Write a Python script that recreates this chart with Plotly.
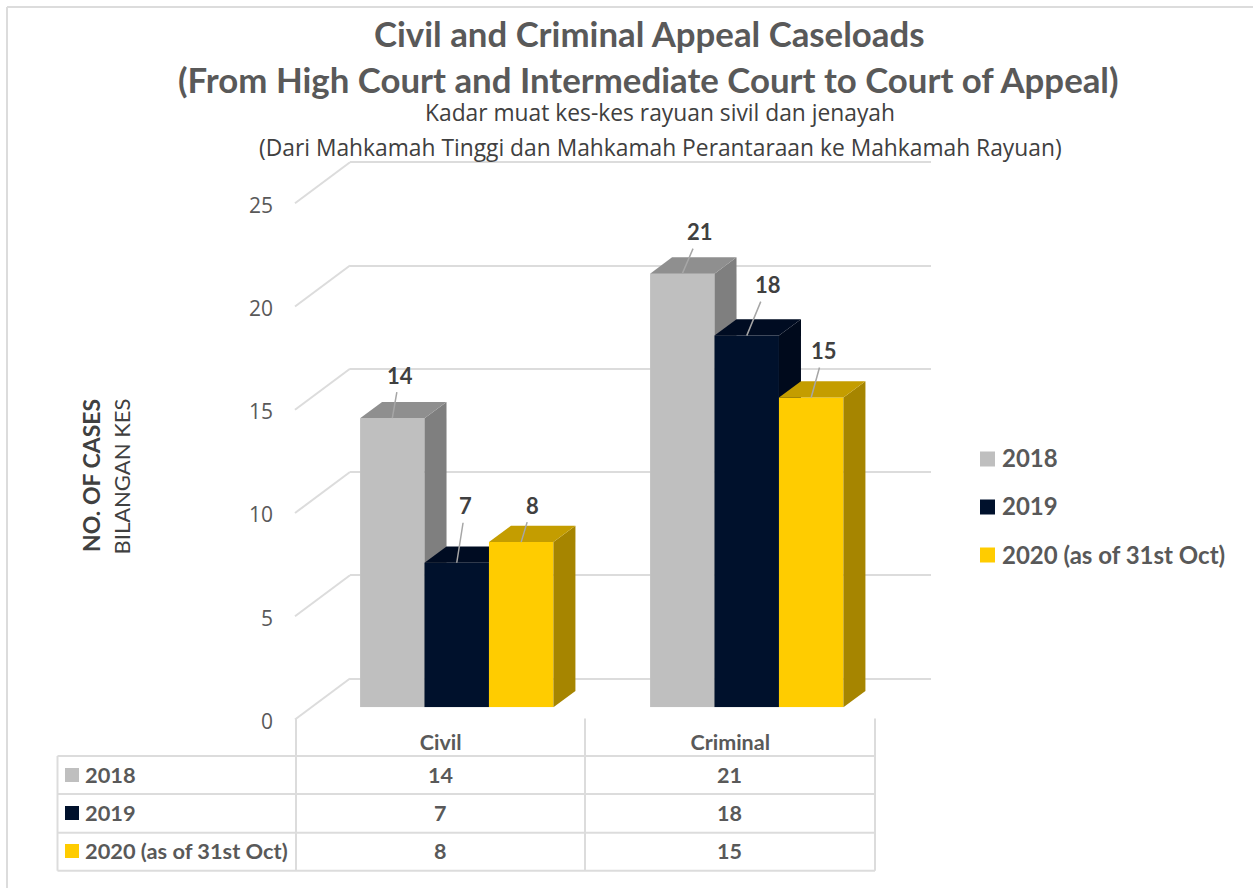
import plotly.graph_objects as go

# ---- data ----
categories = ["Civil", "Criminal"]
series_names = ["2018", "2019", "2020 (as of 31st Oct)"]
values_2018 = [14, 21]
values_2019 = [7, 18]
values_2020 = [8, 15]
y_ticks = [0, 5, 10, 15, 20, 25]
title_lines = ["Civil and Criminal Appeal Caseloads",
               "(From High Court and Intermediate Court to Court of Appeal)"]
subtitle_lines = ["Kadar muat kes-kes rayuan sivil dan jenayah",
                  "(Dari Mahkamah Tinggi dan Mahkamah Perantaraan ke Mahkamah Rayuan)"]

# ---- style ----
W, H = 1253, 888
all_values = [values_2018, values_2019, values_2020]
front_colors = ["#BFBFBF", "#00112C", "#FFCC00"]
side_colors = ["#7F7F7F", "#000A1C", "#A68500"]
top_colors = ["#8F8F8F", "#000C22", "#C49D00"]
GRID = "#DCDCDC"
GRID_W = 2
TXT = "#595959"
LBL = "#404040"
BOLD = "Lato"
REG = "Open Sans"

def px(x):
    return x / W

def py(y):
    return 1 - y / H

# plane geometry in pixels
UNIT = 20.65             # pixels per case
BAR_BASE = 707.3
FRONT_BASE = 719.5
LABEL_BASE = 721.5
BACK_BASE = 678.5
YMAX = 25
BAR_L, BAR_R = 311.75, 891.75     # x extent of the bar axis
BACK_L, BACK_R = 350, 931
FRONT_L, FRONT_R = 296, 875
group_frac = 2 / 3
bar_w = group_frac / 3
depth_x = 22 / ((BAR_R - BAR_L) / 2)   # bar depth in category units
depth_y = 16.3 / UNIT                  # bar depth in value units

# [ax, ay] pixel offset of each value label from its bar's front top centre
label_offsets = [[(7.5, -43), (18, -42)], [(9, -57), (21, -51)], [(11, -37), (13, -47)]]

fig = go.Figure()

# one overlaid subplot per series so that each bar paints over the earlier one
xnames = ["x2", "x3", "x4"]
ynames = ["y2", "y3", "y4"]
annotations = []
for i, (name, vals) in enumerate(zip(series_names, all_values)):
    centers = [c - group_frac / 2 + bar_w * (i + 0.5) for c in range(len(categories))]
    fig.add_trace(go.Bar(x=centers, y=vals, width=bar_w, name=name, customdata=categories,
                         marker=dict(color=front_colors[i], line=dict(width=0)),
                         xaxis=xnames[i], yaxis=ynames[i], showlegend=False))
    for c, v in enumerate(vals):
        l = centers[c] - bar_w / 2
        r = centers[c] + bar_w / 2
        fig.add_trace(go.Scatter(x=[r, r + depth_x, r + depth_x, r, r], y=[0, depth_y, v + depth_y, v, 0],
                                 mode="lines", fill="toself", fillcolor=side_colors[i],
                                 line=dict(width=0), hoverinfo="skip", showlegend=False,
                                 xaxis=xnames[i], yaxis=ynames[i]))
        fig.add_trace(go.Scatter(x=[l, r, r + depth_x, l + depth_x, l], y=[v, v, v + depth_y, v + depth_y, v],
                                 mode="lines", fill="toself", fillcolor=top_colors[i],
                                 line=dict(width=0), hoverinfo="skip", showlegend=False,
                                 xaxis=xnames[i], yaxis=ynames[i]))
        ax, ay = label_offsets[i][c]
        annotations.append(dict(x=centers[c], y=v, xref=xnames[i], yref=ynames[i], text=f"<b>{v}</b>",
                                showarrow=True, arrowhead=0, arrowwidth=1.5, arrowcolor="#A6A6A6",
                                ax=ax, ay=ay, axref="pixel", ayref="pixel", borderpad=3,
                                font=dict(family=BOLD, size=22, color=LBL)))

# invisible anchors: back wall and front plane
fig.add_trace(go.Scatter(x=[0], y=[0], mode="markers", marker=dict(opacity=0), xaxis="x", yaxis="y",
                         hoverinfo="skip", showlegend=False))
fig.add_trace(go.Scatter(x=[0], y=[0], mode="markers", marker=dict(opacity=0), xaxis="x5", yaxis="y5",
                         hoverinfo="skip", showlegend=False))

shapes = []
# slanted floor/side lines linking the front plane ticks to the back wall
for t in y_ticks:
    shapes.append(dict(type="line", xref="paper", yref="paper", layer="below",
                       x0=px(FRONT_L - 1), y0=py(FRONT_BASE - t * UNIT),
                       x1=px(BACK_L), y1=py(BACK_BASE - t * UNIT),
                       line=dict(color=GRID, width=GRID_W)))

# data table
rows_y = [756, 794, 832.7, 870.7]
row_mid = [775, 813, 851]
col_x = [57.5, 296, 585, 875]
col_mid = [440.5, 730]
for y in rows_y:
    shapes.append(dict(type="line", xref="paper", yref="paper", x0=px(col_x[0]), x1=px(col_x[-1]),
                       y0=py(y), y1=py(y), line=dict(color=GRID, width=GRID_W)))
shapes.append(dict(type="line", xref="paper", yref="paper", x0=px(col_x[0]), x1=px(col_x[0]),
                   y0=py(rows_y[0]), y1=py(rows_y[-1]), line=dict(color=GRID, width=GRID_W)))
for x in col_x[1:]:
    shapes.append(dict(type="line", xref="paper", yref="paper", x0=px(x), x1=px(x),
                       y0=py(FRONT_BASE - 1), y1=py(rows_y[-1]), line=dict(color=GRID, width=GRID_W)))


def text(x, y, s, size, family=BOLD, color=TXT, xanchor="center", angle=0):
    annotations.append(dict(x=px(x), y=py(y), xref="paper", yref="paper", text=s, showarrow=False,
                            xanchor=xanchor, yanchor="middle", textangle=angle,
                            font=dict(family=family, size=size, color=color)))


for r, name in enumerate(series_names):
    shapes.append(dict(type="rect", xref="paper", yref="paper", x0=px(65), x1=px(79),
                       y0=py(row_mid[r] - 7), y1=py(row_mid[r] + 7),
                       fillcolor=front_colors[r], line=dict(width=0)))
    text(83, row_mid[r] - 1, f"<b>{name}</b>", 21.8, xanchor="left")
    for c in range(len(categories)):
        text(col_mid[c] - 0.5, row_mid[r], f"<b>{all_values[r][c]}</b>", 21.5)

# legend
legend_y = [459, 507, 555]
for r, name in enumerate(series_names):
    shapes.append(dict(type="rect", xref="paper", yref="paper", x0=px(980), x1=px(995),
                       y0=py(legend_y[r] - 7.5), y1=py(legend_y[r] + 7.5),
                       fillcolor=front_colors[r], line=dict(width=0)))
    text(1000, legend_y[r] - 1, f"<b>{name}</b>", 24, xanchor="left")

# titles
text(649.5, 34, f"<b>{title_lines[0]}</b>", 34.8)
text(648.5, 80, f"<b>{title_lines[1]}</b>", 34.8)
text(660, 112, subtitle_lines[0], 22.8, family=REG, color="#404040")
text(660, 148, subtitle_lines[1], 22.8, family=REG, color="#404040")
text(91, 476, "<b>NO. OF CASES</b>", 23, angle=-90, color=LBL)
text(121, 476.5, "BILANGAN KES", 22, angle=-90, color=LBL)

# outer chart border
shapes.append(dict(type="line", xref="paper", yref="paper", x0=px(7), x1=px(7), y0=py(7), y1=0,
                   line=dict(color=GRID, width=GRID_W)))
shapes.append(dict(type="line", xref="paper", yref="paper", x0=px(7), x1=1, y0=py(7), y1=py(7),
                   line=dict(color=GRID, width=GRID_W)))

hidden = dict(visible=False, fixedrange=True)
bar_x = dict(hidden, range=[-0.5, 1.5])
bar_y = dict(hidden, range=[0, YMAX])
WALL_PAD = 1             # wall axis extends past the outer ticks so their grid lines are kept

fig.update_layout(
    width=W, height=H, autosize=False,
    margin=dict(l=0, r=0, t=0, b=0, pad=0, autoexpand=False),
    paper_bgcolor="white", plot_bgcolor="rgba(0,0,0,0)",
    showlegend=False, annotations=annotations, shapes=shapes,
    # back wall: native grid
    xaxis=dict(hidden, domain=[px(BACK_L), px(BACK_R)], range=[0, 1], anchor="y"),
    yaxis=dict(domain=[py(BACK_BASE + WALL_PAD * UNIT), py(BACK_BASE - (YMAX + WALL_PAD) * UNIT)],
               range=[-WALL_PAD, YMAX + WALL_PAD], anchor="x",
               tickvals=y_ticks, showticklabels=False, ticks="", showline=False, zeroline=False,
               showgrid=True, gridcolor=GRID, gridwidth=GRID_W, fixedrange=True),
    # bars
    xaxis2=dict(bar_x, domain=[px(BAR_L), px(BAR_R)], anchor="y2"),
    yaxis2=dict(bar_y, domain=[py(BAR_BASE), py(BAR_BASE - YMAX * UNIT)], anchor="x2"),
    xaxis3=dict(bar_x, overlaying="x2", anchor="y3"),
    yaxis3=dict(bar_y, overlaying="y2", anchor="x3"),
    xaxis4=dict(bar_x, overlaying="x2", anchor="y4"),
    yaxis4=dict(bar_y, overlaying="y2", anchor="x4"),
    # front plane: tick labels
    xaxis5=dict(domain=[px(FRONT_L), px(FRONT_R)], range=[-0.5, 1.5], anchor="y5",
                tickvals=list(range(len(categories))), ticktext=[f"<b>{c}</b>" for c in categories],
                tickfont=dict(family=BOLD, size=21.5, color=TXT), ticks="", showline=False,
                showgrid=False, zeroline=False, fixedrange=True, ticklabelstandoff=6),
    yaxis5=dict(domain=[py(LABEL_BASE), py(LABEL_BASE - YMAX * UNIT)], range=[0, YMAX], anchor="x5",
                tickvals=y_ticks, tickfont=dict(family=REG, size=21, color=TXT), ticks="",
                showline=False, showgrid=False, zeroline=False, fixedrange=True, ticklabelstandoff=22),
)

fig.write_html("out.html", config=dict(displayModeBar=False),
               post_script="document.body.style.margin='0';document.documentElement.style.overflow='hidden';")
